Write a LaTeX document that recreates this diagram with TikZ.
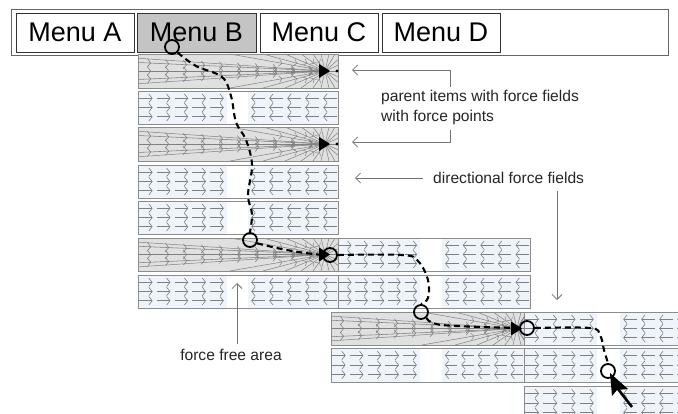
\documentclass[tikz,border=0pt]{standalone}
\usepackage{fontspec}
\setmainfont{Liberation Sans}
\usetikzlibrary{arrows.meta,decorations.markings}
\definecolor{dirfill}{RGB}{238,244,250}
\definecolor{ffill}{RGB}{224,224,224}
\definecolor{fline}{RGB}{128,128,128}
\definecolor{bline}{RGB}{140,140,140}
\definecolor{menugray}{RGB}{196,196,196}
\tikzset{
  farrow/.style={draw=fline, line width=0.6pt, -{Straight Barb[length=3.4pt,width=8.5pt]}},
  boxline/.style={draw=bline, line width=0.9pt},
  chev/.style={postaction={decorate}, decoration={markings,
      mark=between positions 0.07 and 0.97 step 18pt with {\arrow[fline,line width=0.6pt]{Straight Barb[length=3.4pt,width=8.5pt]}}}},
  chevone/.style={postaction={decorate}, decoration={markings,
      mark=at position 0.55 with {\arrow[fline,line width=0.5pt]{Straight Barb[length=2.8pt,width=6.5pt]}}}},
  cur/.style={circle, draw=black, line width=1.8pt, minimum size=14pt, inner sep=0pt},
  cpath/.style={draw=black, line width=2.1pt, dash pattern=on 6pt off 4pt},
  lbl/.style={font=\fontsize{15.6}{20}\selectfont, text=black!85, inner sep=0pt},
  lblarrow/.style={draw=black!55, line width=0.8pt, -{Straight Barb[length=5pt,width=10pt]}},
  menubox/.style={draw=black!80, line width=0.6pt, minimum width=118pt, minimum height=39pt,
      inner sep=0pt, font=\fontsize{27}{30}\selectfont, fill=white},
}
\newcommand\dirbox[8]{%
  \fill[dirfill] (#1,#2) rectangle (#3,#4);
  \fill[white] (#5,#2) rectangle (#6,#4);
  \pgfmathsetmacro\dsR{(#5-#1)/#7}%
  \pgfmathsetmacro\dsL{(#3-#6)/#8}%
  \foreach \r in {0.22,0.5,0.78}{%
    \pgfmathsetmacro\yy{#2+\r*(#4-#2)}%
    \foreach \i in {1,...,#7}{%
      \draw[farrow] ({#1+(\i-1)*\dsR+0.06*\dsR},\yy) -- ({#1+(\i-1)*\dsR+0.82*\dsR},\yy);
    }%
    \foreach \i in {1,...,#8}{%
      \draw[farrow] ({#6+\i*\dsL-0.06*\dsL},\yy) -- ({#6+(\i-1)*\dsL+0.18*\dsL},\yy);
    }%
  }%
  \draw[boxline] (#1,#2) rectangle (#3,#4);
}
\newcommand\forcebox[5]{%
  \fill[ffill] (#1,#2) rectangle (#3,#4);
  \pgfmathsetmacro\fy{(#2+#4)/2}%
  \pgfmathsetmacro\hh{#4-#2}%
  \begin{scope}
    \clip (#1,#2) rectangle (#3,#4);
    \foreach \k in {1,7}{\draw[fline, line width=0.5pt] (#1,{#2+\k*\hh/8}) -- (#5,\fy);}
    \foreach \k in {2,4,6}{\draw[fline, line width=0.55pt, chev] (#1,{#2+\k*\hh/8}) -- (#5,\fy);}
    \foreach \d in {-95,-62,-40,-24,-12}{%
      \draw[fline, line width=0.5pt, chevone] ({#5+\d},#2) -- (#5,\fy);
      \draw[fline, line width=0.5pt, chevone] ({#5+\d},#4) -- (#5,\fy);}
    \foreach \d in {-4,4,10}{%
      \draw[fline, line width=0.5pt] ({#5+\d},#2) -- (#5,\fy);
      \draw[fline, line width=0.5pt] ({#5+\d},#4) -- (#5,\fy);}
    \foreach \k in {1,...,5}{\draw[fline, line width=0.5pt] (#3,{#2+\k*\hh/6}) -- (#5,\fy);}
  \end{scope}
  \fill[black] ({#5-6},{\fy-7}) -- ({#5+5},\fy) -- ({#5-6},{\fy+7}) -- cycle;
  \draw[boxline] (#1,#2) rectangle (#3,#4);
}
\begin{document}
\begin{tikzpicture}[x=1pt,y=-1pt]
\clip (0,0) rectangle (678,414);
\fill[white] (0,0) rectangle (678,414);

% menu bar
\draw[draw=black!60, line width=0.8pt, fill=white] (11,9) rectangle (668,55);
\node[menubox] (ma) at (75,32.5) {Menu A};
\node[menubox, fill=menugray, minimum width=119pt] (mb) at (196.5,32.5) {Menu B};
\node[menubox] (mc) at (319,32.5) {Menu C};
\node[menubox] (md) at (441,32.5) {Menu D};

% column 1
\forcebox{138}{54}{338}{88}{325}
\dirbox{138}{91}{338}{124}{227}{248}{5}{5}
\forcebox{138}{127}{338}{161}{325}
\dirbox{138}{165}{338}{198}{227}{248}{5}{5}
\dirbox{138}{201}{338}{234}{227}{248}{5}{5}
\forcebox{138}{238}{338}{271}{325}
\dirbox{138}{275}{338}{308}{227}{248}{5}{5}
% column 2
\dirbox{338}{238}{530}{271}{420}{442}{5}{5}
\dirbox{338}{275}{530}{308}{420}{442}{5}{5}
% column 3
\forcebox{331}{312}{524}{345}{517}
\dirbox{331}{348}{524}{382}{420}{442}{5}{5}
\dirbox{524}{312}{710}{345}{597}{620}{4}{5}
\dirbox{524}{348}{710}{382}{597}{620}{4}{5}
\dirbox{524}{386}{710}{420}{597}{620}{4}{5}

% force point dots
\fill[black] (337,71) circle (1.7pt);
\fill[black] (337,144) circle (1.7pt);

% labels
\node[lbl, anchor=west, align=left] (plbl) at (381,107.5) {parent items with force fields\\with force points};
\coordinate (p1a) at (450,87);
\coordinate (p1b) at (450,70);
\coordinate (p1c) at (352,70);
\coordinate (p2a) at (450,130);
\coordinate (p2b) at (450,142);
\coordinate (p2c) at (352,142);
\draw[lblarrow] (p1a) -- (p1b) -- (p1c);
\draw[lblarrow] (p2a) -- (p2b) -- (p2c);

\node[lbl, anchor=west] (dlbl) at (433,178) {directional force fields};
\coordinate (d1a) at (423,178);
\coordinate (d1b) at (355,178);
\coordinate (d2a) at (557,191);
\coordinate (d2b) at (557,300);
\draw[lblarrow] (d1a) -- (d1b);
\draw[lblarrow] (d2a) -- (d2b);

\node[lbl] (flbl) at (231,355) {force free area};
\coordinate (f1a) at (237,344);
\coordinate (f1b) at (237,283);
\draw[lblarrow] (f1a) -- (f1b);

% cursor path
\node[cur] (c1) at (172,47) {};
\node[cur] (c2) at (250,240) {};
\node[cur] (c3) at (330,255) {};
\node[cur] (c4) at (421,312) {};
\node[cur] (c5) at (527,328) {};
\node[cur] (c6) at (608,371) {};

\draw[cpath] plot[smooth, tension=0.6] coordinates {(c1.-45) (196,66) (222,77) (231,96) (236,122) (246,140) (252,165) (248,195) (252,214) (c2.north)};
\draw[cpath] (c2.-25) to[bend right=4] (c3.west);
\draw[cpath] plot[smooth, tension=0.6] coordinates {(c3.east) (402,255) (418,261) (428,280) (428,298) (c4.north)};
\draw[cpath] plot[smooth, tension=0.6] coordinates {(c4.-45) (442,325) (c5.west)};
\draw[cpath] plot[smooth, tension=0.6] coordinates {(c5.east) (590,328) (600,335) (604,350) (c6.north)};

% mouse pointer
\fill[black] (610,373) -- (612,396) -- (617,390) -- (628,389) -- cycle;
\draw[black, line width=2.6pt] (618,389) -- (632,407);
\end{tikzpicture}
\end{document}
